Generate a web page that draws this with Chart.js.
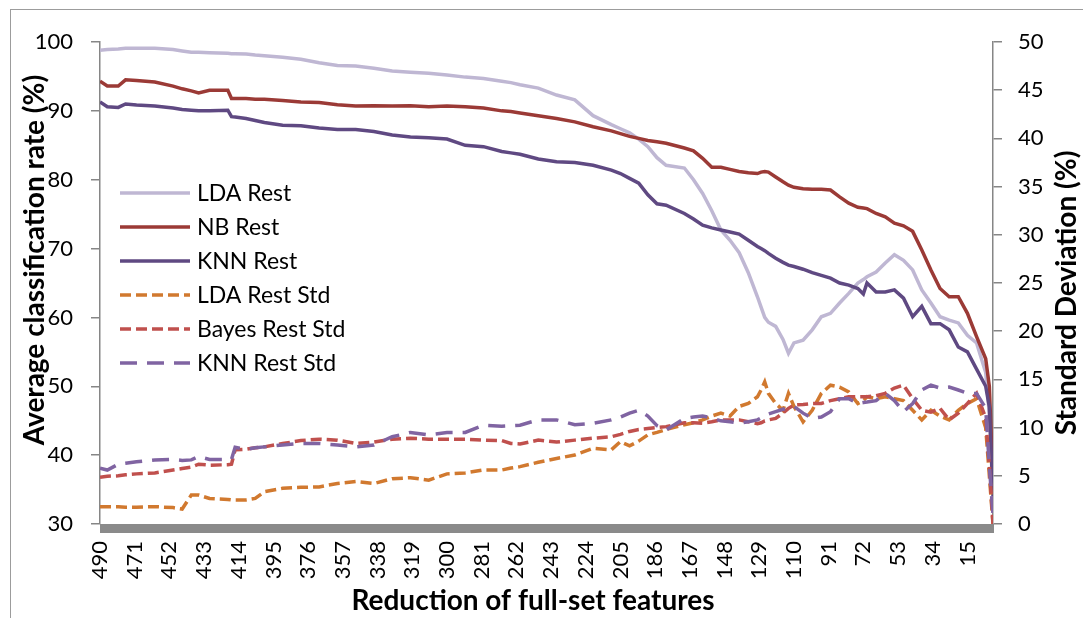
<!DOCTYPE html>
<html>
<head>
<meta charset="utf-8">
<script src="https://cdn.jsdelivr.net/npm/chart.js@4.4.0/dist/chart.umd.min.js"></script>
<style>
  body { margin: 0; background: #fff; }
  #wrap { position: relative; width: 1083px; height: 618px; overflow: hidden; }
  #frame { position: absolute; left: 10px; top: 9px; width: 1100px; height: 640px; border-left: 1.5px solid #9c9c9c; border-top: 1.5px solid #9c9c9c; }
  canvas { position: absolute; left: 0; top: 0; }
</style>
</head>
<body>
<div id="wrap">
  <div id="frame"></div>
  <canvas id="chart" width="1083" height="618"></canvas>
</div>
<script>
// number of features left after reduction (x positions)
const features = [490, 486, 480, 476, 470, 460, 450, 445, 440, 436, 430, 420, 418, 416, 410, 405, 400, 390, 380, 370,
  360, 350, 340, 330, 320, 310, 300, 290, 280, 270, 265, 260, 250, 240, 230, 220, 210, 205, 200, 195,
  190, 185, 180, 170, 165, 160, 155, 150, 145, 140, 135, 130, 128, 126, 124, 120, 116, 113, 110, 105,
  100, 95, 90, 85, 80, 75, 72, 70, 65, 60, 55, 50, 45, 40, 35, 30, 25, 20, 15, 10, 5, 3, 1];

// classification rate (%) - left axis
const ldaRest = [98.8, 98.9, 99.0, 99.1, 99.1, 99.1, 98.9, 98.7, 98.5, 98.5, 98.45, 98.35, 98.3, 98.3, 98.25, 98.1, 98.0, 97.8, 97.5, 97.0,
  96.6, 96.5, 96.2, 95.8, 95.6, 95.45, 95.2, 94.9, 94.7, 94.3, 94.1, 93.8, 93.3, 92.3, 91.6, 89.3, 88.0, 87.4, 86.8, 85.9,
  84.8, 83.2, 82.1, 81.7, 80.0, 78.0, 75.5, 72.7, 71.2, 69.4, 66.5, 63.0, 61.5, 60.0, 59.3, 58.7, 56.8, 54.8, 56.3, 56.7,
  58.2, 60.1, 60.6, 62.1, 63.5, 65.0, 65.5, 65.9, 66.6, 67.9, 69.1, 68.3, 66.9, 64.0, 62.1, 60.1, 59.6, 59.2, 57.4, 56.3, 52, 46, 35];
const nbRest = [94.3, 93.6, 93.6, 94.5, 94.4, 94.2, 93.6, 93.2, 92.9, 92.6, 93.0, 93.0, 91.8, 91.8, 91.8, 91.7, 91.7, 91.5, 91.3, 91.2,
  90.9, 90.7, 90.75, 90.7, 90.75, 90.6, 90.7, 90.6, 90.4, 90.0, 89.9, 89.7, 89.3, 88.9, 88.4, 87.7, 87.1, 86.7, 86.3, 86.0,
  85.7, 85.5, 85.3, 84.6, 84.2, 83.1, 81.8, 81.8, 81.5, 81.2, 81.0, 80.9, 81.1, 81.2, 81.1, 80.4, 79.7, 79.2, 78.9, 78.7,
  78.6, 78.6, 78.5, 77.5, 76.6, 76.0, 75.9, 75.8, 75.1, 74.6, 73.7, 73.3, 72.5, 69.8, 66.9, 64.2, 63.0, 63.0, 60.6, 57.2, 54, 50, 36];
const knnRest = [91.3, 90.6, 90.5, 91.0, 90.85, 90.7, 90.4, 90.2, 90.1, 90.0, 90.0, 90.1, 89.15, 89.1, 88.9, 88.6, 88.3, 87.9, 87.85, 87.5,
  87.3, 87.3, 87.0, 86.5, 86.2, 86.1, 85.9, 85.0, 84.8, 84.1, 83.9, 83.7, 83.0, 82.6, 82.5, 82.1, 81.4, 80.9, 80.2, 79.5,
  77.8, 76.5, 76.3, 75.1, 74.3, 73.4, 73.0, 72.7, 72.4, 72.1, 71.2, 70.3, 70.0, 69.7, 69.3, 68.6, 68.0, 67.6, 67.4, 67.0,
  66.5, 66.1, 65.7, 65.0, 64.7, 64.2, 63.4, 65.0, 63.7, 63.7, 64.0, 62.8, 60.1, 61.6, 59.1, 59.1, 58.2, 55.7, 55.0, 52.5, 50, 47, 34];

// standard deviation (%) - right axis
const ldaRestStd = [1.8, 1.8, 1.8, 1.75, 1.75, 1.8, 1.7, 1.55, 3.0, 3.0, 2.65, 2.55, 2.5, 2.5, 2.5, 2.65, 3.35, 3.7, 3.8, 3.85,
  4.2, 4.4, 4.2, 4.7, 4.8, 4.55, 5.2, 5.3, 5.6, 5.6, 5.8, 5.95, 6.4, 6.8, 7.15, 7.85, 7.7, 8.55, 8.1, 8.6,
  9.25, 9.5, 9.8, 10.3, 10.5, 10.8, 11.2, 11.5, 11.2, 12.2, 12.5, 13.2, 13.9, 14.75, 13.55, 12.5, 11.8, 13.55, 12.2, 10.6,
  11.8, 13.55, 14.4, 14.2, 13.7, 12.5, 12.8, 13.2, 13.0, 13.2, 13.0, 12.8, 11.8, 10.8, 11.8, 11.2, 10.8, 11.8, 12.5, 13.0, 10, 5, 0];
const bayesRestStd = [4.85, 4.95, 5.0, 5.1, 5.2, 5.3, 5.6, 5.75, 5.9, 6.2, 6.1, 6.15, 6.2, 7.7, 7.75, 7.9, 8.0, 8.35, 8.65, 8.8,
  8.7, 8.35, 8.5, 8.8, 8.9, 8.8, 8.8, 8.8, 8.7, 8.65, 8.35, 8.3, 8.7, 8.5, 8.7, 8.9, 9.05, 9.3, 9.6, 9.8,
  9.9, 10.0, 10.1, 10.5, 10.5, 10.45, 10.6, 10.8, 10.8, 10.8, 10.6, 10.4, 10.5, 10.7, 10.8, 10.95, 11.5, 12.0, 12.35, 12.4,
  12.5, 12.5, 12.8, 13.0, 13.2, 13.2, 13.2, 13.2, 13.3, 13.55, 14.1, 14.4, 13.0, 11.8, 11.6, 12.0, 10.8, 11.5, 12.5, 13.55, 11, 6, 0];
const knnRestStd = [5.8, 5.6, 6.2, 6.3, 6.45, 6.65, 6.7, 6.6, 6.65, 7.0, 6.7, 6.7, 6.7, 7.95, 7.75, 7.9, 8.0, 8.2, 8.35, 8.35,
  8.2, 8.0, 8.2, 9.05, 9.5, 9.25, 9.5, 9.5, 10.25, 10.15, 10.2, 10.25, 10.8, 10.8, 10.3, 10.45, 10.8, 11.1, 11.5, 11.8,
  11.2, 10.2, 9.75, 10.95, 11.1, 11.2, 11.0, 10.7, 10.6, 10.45, 10.6, 10.8, 11.0, 11.2, 11.4, 11.65, 11.9, 12.1, 12.2, 11.5,
  10.95, 11.1, 11.65, 13.0, 13.0, 12.5, 12.6, 12.65, 12.8, 13.55, 12.8, 11.65, 12.5, 13.9, 14.4, 14.1, 14.2, 13.9, 13.55, 13.55, 12, 6, 1];

const xTickLabels = [490, 471, 452, 433, 414, 395, 376, 357, 338, 319, 300, 281, 262, 243, 224, 205, 186, 167, 148, 129, 110, 91, 72, 53, 34, 15];

const xTitle = "Reduction of full-set features";
const yTitle = "Average classification rate (%)";
const y2Title = "Standard Deviation (%)";

Chart.defaults.font.family = "Lato";
Chart.defaults.color = "#000";

function points(values) {
  return features.map((f, i) => ({ x: f, y: values[i] }));
}

// thick grey band under the plot (Excel's packed tick marks)
const axisBand = {
  id: "axisBand",
  beforeDatasetsDraw(chart) {
    const { ctx, chartArea } = chart;
    ctx.save();
    ctx.fillStyle = "#8a8a8a";
    ctx.fillRect(chartArea.left, chartArea.bottom, chartArea.right - chartArea.left + 1, 9);
    ctx.restore();
  },
};

// legend drawn inside the plot, upper left
const insideLegend = {
  id: "insideLegend",
  afterDatasetsDraw(chart) {
    const ctx = chart.ctx;
    ctx.save();
    ctx.font = "23px Lato";
    ctx.textBaseline = "middle";
    chart.data.datasets.forEach((ds, i) => {
      const y = 193 + i * 34;
      ctx.strokeStyle = ds.borderColor;
      ctx.lineWidth = ds.borderWidth;
      ctx.setLineDash(ds.borderDash || []);
      ctx.beginPath();
      ctx.moveTo(120, y);
      ctx.lineTo(190, y);
      ctx.stroke();
      ctx.setLineDash([]);
      ctx.fillStyle = "#000";
      ctx.fillText(ds.label, 197, y + 1);
    });
    ctx.restore();
  },
};

// axis titles (the right one reads bottom to top like the left one)
const axisTitles = {
  id: "axisTitles",
  afterDraw(chart) {
    const ctx = chart.ctx;
    ctx.save();
    ctx.fillStyle = "#000";
    ctx.font = "bold 28px Lato";
    ctx.textAlign = "center";
    ctx.textBaseline = "alphabetic";
    ctx.fillText(xTitle, 533, 610);

    ctx.save();
    ctx.translate(44, 260);
    ctx.rotate(-Math.PI / 2);
    ctx.fillText(yTitle, 0, 0);
    ctx.restore();

    ctx.save();
    ctx.translate(1076, 293);
    ctx.rotate(-Math.PI / 2);
    ctx.fillText(y2Title, 0, 0);
    ctx.restore();
    ctx.restore();
  },
};

const ctx = document.getElementById("chart").getContext("2d");
new Chart(ctx, {
  type: "line",
  data: {
    datasets: [
      { label: "LDA Rest", data: points(ldaRest), yAxisID: "y", borderColor: "#bfb7d3", borderWidth: 3.5, order: 6 },
      { label: "NB Rest", data: points(nbRest), yAxisID: "y", borderColor: "#9b3a36", borderWidth: 3.5, order: 5 },
      { label: "KNN Rest", data: points(knnRest), yAxisID: "y", borderColor: "#5f4982", borderWidth: 3.5, order: 4 },
      { label: "LDA Rest Std", data: points(ldaRestStd), yAxisID: "y1", borderColor: "#d1792f", borderWidth: 3.5, borderDash: [11, 5], order: 3 },
      { label: "Bayes Rest Std", data: points(bayesRestStd), yAxisID: "y1", borderColor: "#c0504d", borderWidth: 3.5, borderDash: [11, 5], order: 2 },
      { label: "KNN Rest Std", data: points(knnRestStd), yAxisID: "y1", borderColor: "#8064a2", borderWidth: 3.5, borderDash: [17, 10], order: 1 },
    ],
  },
  options: {
    responsive: false,
    animation: false,
    events: [],
    elements: { point: { radius: 0 }, line: { tension: 0, fill: false } },
    layout: { padding: { top: 42, right: 0, bottom: 0, left: 0 } },
    plugins: { legend: { display: false }, tooltip: { enabled: false } },
    scales: {
      x: {
        type: "linear",
        reverse: true,
        min: 1,
        max: 490,
        afterBuildTicks: (scale) => { scale.ticks = xTickLabels.map((v) => ({ value: v })); },
        afterFit: (scale) => { scale.height = 94; },
        ticks: { autoSkip: false, minRotation: 90, maxRotation: 90, padding: 8, font: { size: 22 }, callback: (v) => String(v) },
        grid: { drawOnChartArea: false, tickLength: 9, color: "rgba(0,0,0,0)" },
        border: { display: false },
      },
      y: {
        position: "left",
        min: 30,
        max: 100,
        afterFit: (scale) => { scale.width = 100; },
        ticks: { stepSize: 10, padding: 18, font: { size: 22 } },
        grid: { drawOnChartArea: false, tickLength: 9, color: "#868686", lineWidth: 1.5 },
        border: { color: "#868686", width: 1.5 },
      },
      y1: {
        position: "right",
        min: 0,
        max: 50,
        afterFit: (scale) => { scale.width = 90; },
        ticks: { stepSize: 5, padding: 16, font: { size: 22 } },
        grid: { drawOnChartArea: false, tickLength: 9, color: "#868686", lineWidth: 1.5 },
        border: { color: "#868686", width: 1.5 },
      },
    },
  },
  plugins: [axisBand, insideLegend, axisTitles],
});
</script>
</body>
</html>
